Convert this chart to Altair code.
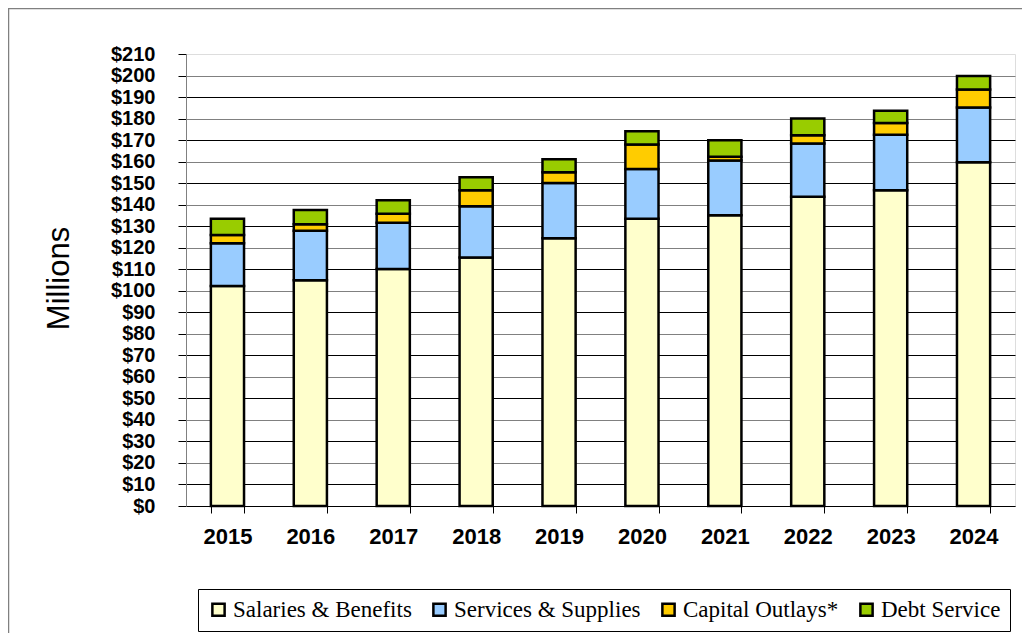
import altair as alt
import pandas as pd

years = ["2015", "2016", "2017", "2018", "2019", "2020", "2021", "2022", "2023", "2024"]
salaries = [102.2, 104.9, 110.1, 115.4, 124.4, 133.4, 135.1, 143.7, 146.7, 159.7]
services = [19.9, 23.0, 21.5, 23.9, 25.7, 23.2, 25.4, 24.7, 25.8, 25.5]
capital = [3.8, 3.0, 4.2, 7.4, 5.0, 11.3, 1.8, 3.8, 5.5, 8.3]
debt = [7.5, 6.6, 6.2, 6.0, 6.0, 6.2, 7.6, 7.8, 5.6, 6.3]

series_names = ["Salaries & Benefits", "Services & Supplies", "Capital Outlays*", "Debt Service"]
series_colors = ["#FFFFCC", "#99CCFF", "#FFCC00", "#99CC00"]
y_ticks = list(range(0, 211, 10))

rows = []
for i, y in enumerate(years):
    for k, (name, vals) in enumerate(zip(series_names, [salaries, services, capital, debt])):
        rows.append({"year": y, "series": name, "value": vals[i], "order": k})
df = pd.DataFrame(rows)

bars = alt.Chart(df).mark_bar(stroke="black", strokeWidth=2.5).encode(
    x=alt.X("year:N", title=None,
            scale=alt.Scale(paddingInner=0.6, paddingOuter=0.3),
            axis=alt.Axis(labelAngle=0, labelFont="Liberation Sans", labelFontWeight="bold",
                          labelFontSize=22, labelColor="black", labelPadding=13,
                          domainColor="black", domainWidth=1, tickColor="black",
                          tickSize=7, tickBand="extent", grid=False)),
    y=alt.Y("value:Q", stack="zero", title="Millions",
            scale=alt.Scale(domain=[0, 210], nice=False),
            axis=alt.Axis(values=y_ticks, labelExpr="'$' + datum.value",
                          labelOverlap=False, labelFlush=False,
                          labelFont="Liberation Sans", labelFontWeight="bold",
                          labelFontSize=20, labelColor="black", labelPadding=23,
                          tickSize=8, tickColor="black", domainColor="#808080",
                          grid=True,
                          gridColor={"condition": {"test": "datum.value % 20 === 0", "value": "#808080"}, "value": "#000000"},
                          gridOpacity={"condition": {"test": "datum.value === 210", "value": 0}, "value": 1},
                          gridWidth=1.2,
                          titleFont="Liberation Sans", titleFontWeight="normal", titleFontSize=31,
                          titleColor="black", titleX=-118, titleY=224, titleAngle=-90,
                          titleAlign="center", titleBaseline="alphabetic")),
    color=alt.Color("series:N", scale=alt.Scale(domain=series_names, range=series_colors),
                    legend=alt.Legend(title=None, orient="none", direction="horizontal",
                                      legendX=12, legendY=535, symbolType="square",
                                      symbolSize=150, symbolStrokeColor="black",
                                      symbolStrokeWidth=2.5, labelFont="Liberation Serif",
                                      labelFontSize=23, labelColor="black", labelOffset=3,
                                      columnPadding=16, padding=9, strokeColor="black",
                                      fillColor="white", labelLimit=400)),
    order=alt.Order("order:Q", sort="ascending"),
)

frame = alt.Chart(alt.Data(values=[{}])).mark_rect(filled=False, stroke="#808080", strokeWidth=1.5).encode(
    x=alt.value(-177.5), x2=alt.value(950), y=alt.value(-45.5), y2=alt.value(800)
)

chart = alt.layer(frame, bars).properties(
    width=829, height=452,
    autosize=alt.AutoSizeParams(type="none"),
    padding={"left": 178, "top": 46, "right": 7, "bottom": 127},
).configure_view(stroke=None).configure(background="white")

chart.save("out.html", embed_options={"renderer": "svg", "actions": False})
